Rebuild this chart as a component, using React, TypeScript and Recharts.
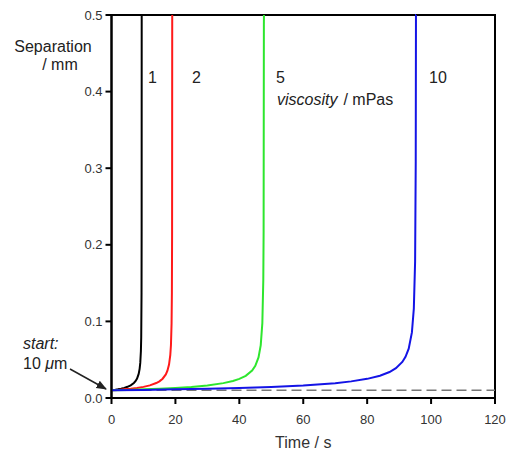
import { LineChart, Line, XAxis, YAxis, ReferenceLine, ReferenceArea } from "recharts"

// time (s) and separation (mm), one curve per viscosity
const t1 = [0, 1, 2, 3, 4, 5, 6, 7, 7.5, 8, 8.5, 8.8, 9, 9.2, 9.3, 9.4, 9.43, 9.445, 9.45]
const h1 = [0.01, 0.0106, 0.0113, 0.0121, 0.0132, 0.0146, 0.0166, 0.0196, 0.022, 0.0255, 0.0315, 0.0381, 0.0458, 0.0614, 0.0793, 0.1375, 0.217, 0.434, 0.5]

const t2 = [0, 2, 4, 6, 8, 10, 12, 14, 15, 16, 17, 17.5, 18, 18.4, 18.6, 18.8, 18.9, 18.96, 18.99, 19.0]
const h2 = [0.01, 0.0106, 0.0113, 0.0121, 0.0131, 0.0145, 0.0165, 0.0195, 0.0218, 0.0252, 0.0308, 0.0356, 0.0436, 0.0563, 0.0689, 0.0975, 0.138, 0.218, 0.436, 0.5]

const t5 = [0, 5, 10, 15, 20, 25, 30, 35, 38, 40, 42, 44, 45, 46, 46.7, 47.2, 47.5, 47.6, 47.68, 47.7]
const h5 = [0.01, 0.0106, 0.0113, 0.0121, 0.0131, 0.0145, 0.0164, 0.0194, 0.0222, 0.0249, 0.0289, 0.0359, 0.042, 0.053, 0.0691, 0.0977, 0.1545, 0.218, 0.488, 0.5]

const t10 = [0, 10, 20, 30, 40, 50, 60, 70, 75, 80, 84, 87, 89, 91, 92, 93, 94, 94.6, 95, 95.2, 95.27, 95.3]
const h10 = [0.01, 0.0106, 0.0113, 0.0121, 0.0131, 0.0145, 0.0164, 0.0194, 0.0217, 0.025, 0.029, 0.0339, 0.0389, 0.0471, 0.0538, 0.0644, 0.0856, 0.1167, 0.178, 0.309, 0.5, 0.5]

const xTicks = [0, 20, 40, 60, 80, 100, 120]
const yTicks = [0, 0.1, 0.2, 0.3, 0.4, 0.5]
const startLevel = 0.01

const series = [
  { name: "1", t: t1, h: h1, color: "#000000" },
  { name: "2", t: t2, h: h2, color: "#ff1a1a" },
  { name: "5", t: t5, h: h5, color: "#2ee62e" },
  { name: "10", t: t10, h: h10, color: "#1414e6" },
]

const font = "'Liberation Sans', Arial, sans-serif"
const tickStyle = { fill: "#333", fontSize: 13, fontFamily: font }

export default function App() {
  return (
    <div style={{ position: "absolute", left: 0, top: 0, width: 508, height: 452, background: "#fff" }}>
      <LineChart width={508} height={452} margin={{ top: 15, right: 13, left: 51.5, bottom: 24 }}>
        <XAxis
          type="number"
          dataKey="t"
          domain={[0, 120]}
          ticks={xTicks}
          tick={tickStyle}
          tickLine={{ stroke: "#000", strokeWidth: 2 }}
          tickSize={6}
          tickMargin={11}
          axisLine={{ stroke: "#000", strokeWidth: 2 }}
          height={30}
          label={{ value: "Time / s", position: "insideBottom", offset: -20, fill: "#333", fontSize: 16, fontFamily: font }}
        />
        <YAxis
          type="number"
          dataKey="h"
          domain={[0, 0.5]}
          ticks={yTicks}
          tickFormatter={(v: number) => v.toFixed(1)}
          tick={tickStyle}
          tickLine={{ stroke: "#000", strokeWidth: 2 }}
          tickSize={6}
          tickMargin={3}
          axisLine={{ stroke: "#000", strokeWidth: 2 }}
          width={60}
        />
        <ReferenceArea x1={0} x2={120} y1={0} y2={0.5} fill="none" stroke="#000" strokeWidth={2} />
        <ReferenceLine y={startLevel} stroke="#777" strokeWidth={1.5} strokeDasharray="10 5" />
        {series.map((s) => (
          <Line
            key={s.name}
            data={s.t.map((t, i) => ({ t, h: s.h[i] }))}
            dataKey="h"
            type="linear"
            stroke={s.color}
            strokeWidth={2}
            dot={false}
            isAnimationActive={false}
          />
        ))}
      </LineChart>
      <svg
        width={508}
        height={452}
        style={{ position: "absolute", left: 0, top: 0, pointerEvents: "none" }}
        fontFamily={font}
        fill="#222"
      >
        <text x={53} y={52} fontSize={16} textAnchor="middle">Separation</text>
        <text x={60} y={70} fontSize={16} textAnchor="middle">/ mm</text>
        <text x={148} y={83} fontSize={16}>1</text>
        <text x={192} y={83} fontSize={16}>2</text>
        <text x={276} y={83} fontSize={16}>5</text>
        <text x={429} y={83} fontSize={16}>10</text>
        <text x={277} y={105} fontSize={16}>
          <tspan fontStyle="italic">viscosity</tspan>
          <tspan dx={6}>/ mPas</tspan>
        </text>
        <text x={23} y={349} fontSize={16} fontStyle="italic">start:</text>
        <text x={23} y={369} fontSize={16}>
          10 <tspan fontStyle="italic">μ</tspan>m
        </text>
        <defs>
          <marker id="arrow" viewBox="0 0 10 10" refX="9" refY="5" markerWidth="7" markerHeight="7" orient="auto">
            <path d="M0,1 L10,5 L0,9 z" fill="#222" />
          </marker>
        </defs>
        <line x1={70} y1={369} x2={106} y2={389} stroke="#222" strokeWidth={1.5} markerEnd="url(#arrow)" />
      </svg>
    </div>
  )
}
